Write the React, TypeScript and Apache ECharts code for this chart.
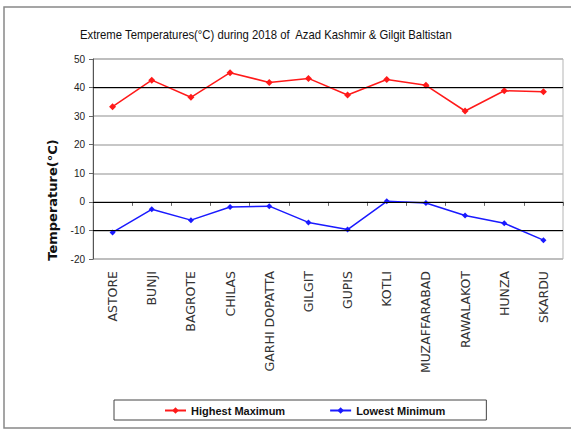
import React, { useEffect, useRef } from "react";
import * as echarts from "echarts";

const stations = [
  "ASTORE",
  "BUNJI",
  "BAGROTE",
  "CHILAS",
  "GARHI DOPATTA",
  "GILGIT",
  "GUPIS",
  "KOTLI",
  "MUZAFFARABAD",
  "RAWALAKOT",
  "HUNZA",
  "SKARDU",
];

const highestMaximum = [33.3, 42.6, 36.6, 45.2, 41.8, 43.2, 37.4, 42.8, 40.8, 31.8, 38.9, 38.5];
const lowestMinimum = [-10.7, -2.6, -6.4, -1.8, -1.5, -7.2, -9.7, 0.2, -0.4, -4.8, -7.5, -13.4];

const yMin = -20;
const yMax = 50;
const yStep = 10;
// reference levels drawn as heavier rules
const darkGridValues = [40, 0, -10];

const chartTitle = "Extreme Temperatures(°C) during 2018 of  Azad Kashmir & Gilgit Baltistan";
const yAxisTitle = "Temperature(°C)";
const seriesNames = ["Highest Maximum", "Lowest Minimum"];

const sans = '"Liberation Sans", Arial, sans-serif';

export default function App() {
  const ref = useRef<HTMLDivElement | null>(null);

  useEffect(() => {
    if (!ref.current) return;
    const chart = echarts.init(ref.current, null, { renderer: "svg" });
    chart.setOption({
      animation: false,
      backgroundColor: "#ffffff",
      grid: {
        left: 93,
        right: 8,
        top: 59,
        bottom: 170,
        show: true,
        borderColor: "#b5b5b5",
        borderWidth: 1,
        backgroundColor: "transparent",
      },
      legend: {
        left: 114,
        top: 400,
        padding: [5, 41, 4, 50],
        itemGap: 44,
        itemWidth: 21,
        itemHeight: 8,
        borderColor: "#444",
        borderWidth: 1,
        textStyle: { fontFamily: sans, fontSize: 11, fontWeight: "bold", color: "#111" },
        data: seriesNames,
      },
      xAxis: {
        type: "category",
        data: stations,
        boundaryGap: true,
        axisLine: { lineStyle: { color: "#333", width: 1 } },
        axisTick: { show: true, length: 4, lineStyle: { color: "#666" } },
        axisLabel: {
          rotate: 90,
          interval: 0,
          margin: 12,
          fontFamily: '"DejaVu Sans", sans-serif',
          fontSize: 12.5,
          color: "#333",
        },
        splitLine: { show: false },
      },
      yAxis: {
        type: "value",
        min: yMin,
        max: yMax,
        interval: yStep,
        axisLine: { show: true, lineStyle: { color: "#555", width: 1 } },
        axisTick: { show: true, length: 4, lineStyle: { color: "#666" } },
        axisLabel: { fontFamily: sans, fontSize: 10, color: "#222", margin: 8 },
        splitLine: { show: true, lineStyle: { color: "#b5b5b5", width: 1.5 } },
      },
      graphic: [
        {
          type: "rect",
          shape: { x: 4, y: 7, width: 620, height: 421 },
          style: { fill: "none", stroke: "#888", lineWidth: 1.5 },
          silent: true,
        },
        {
          // condensed title
          type: "text",
          x: 80,
          y: 35,
          scaleX: 0.87,
          style: {
            text: chartTitle,
            fontFamily: sans,
            fontSize: 13,
            fill: "#111",
            align: "left",
            verticalAlign: "middle",
          },
          silent: true,
        },
        {
          type: "text",
          x: 52,
          y: 200,
          rotation: Math.PI / 2,
          style: {
            text: yAxisTitle,
            fontFamily: '"DejaVu Sans", sans-serif',
            fontSize: 13,
            fontWeight: "bold",
            fill: "#111",
            align: "center",
            verticalAlign: "middle",
          },
          silent: true,
        },
      ],
      series: [
        {
          name: seriesNames[0],
          type: "line",
          data: highestMaximum,
          symbol: "diamond",
          symbolSize: 7,
          lineStyle: { color: "#ff1a1a", width: 1.5 },
          itemStyle: { color: "#ff1a1a" },
          markLine: {
            silent: true,
            symbol: "none",
            label: { show: false },
            lineStyle: { color: "#000", width: 1.2, type: "solid" },
            data: darkGridValues.map((v) => ({ yAxis: v })),
          },
        },
        {
          name: seriesNames[1],
          type: "line",
          data: lowestMinimum,
          symbol: "diamond",
          symbolSize: 6,
          lineStyle: { color: "#1a1aff", width: 1.5 },
          itemStyle: { color: "#1a1aff" },
        },
      ],
    });
    return () => chart.dispose();
  }, []);

  return (
    <div
      ref={ref}
      style={{ position: "fixed", left: 0, top: 0, width: 571, height: 429 }}
    />
  );
}
